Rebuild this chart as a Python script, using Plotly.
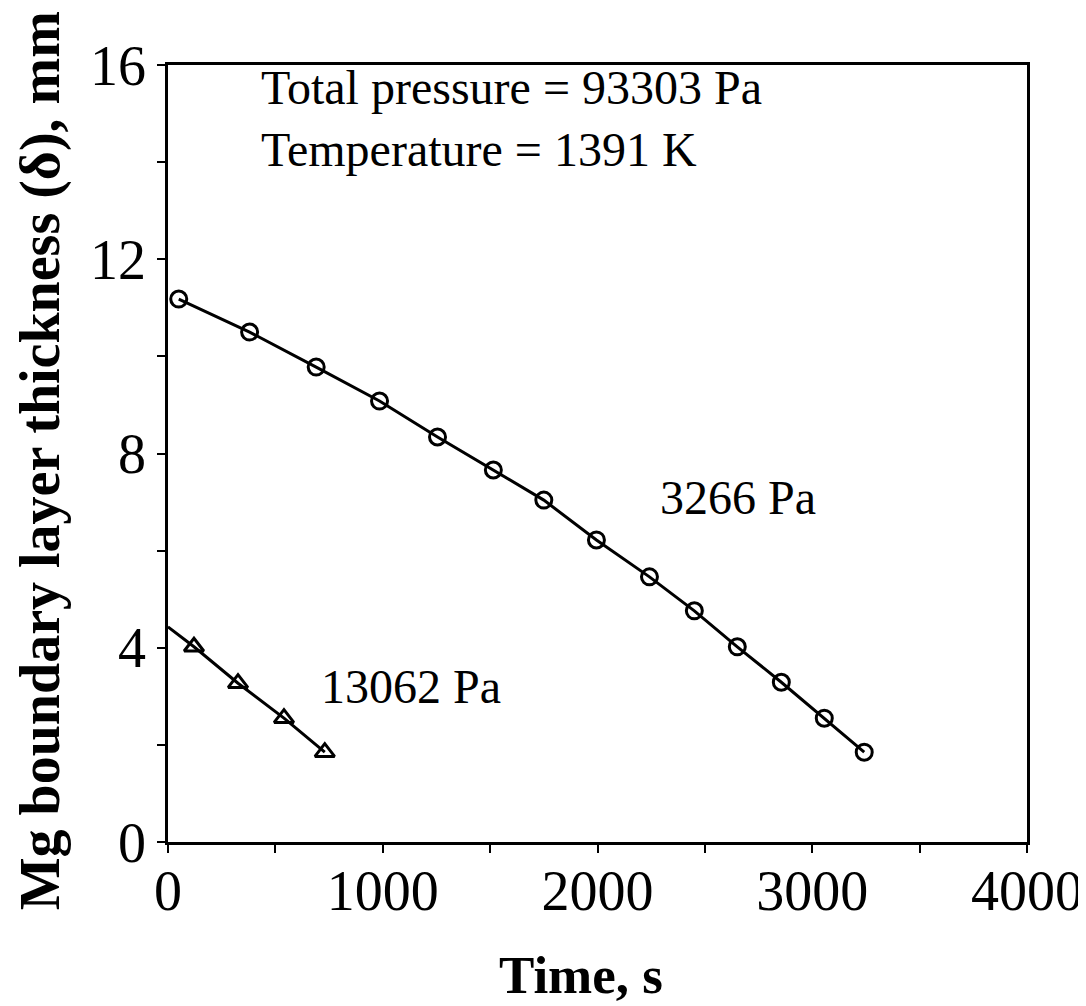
import plotly.graph_objects as go

# 3266 Pa series (circles)
time_3266 = [50, 380, 690, 985, 1255, 1515, 1750, 1995, 2242, 2451, 2651, 2856, 3056, 3242]
delta_3266 = [11.18, 10.50, 9.78, 9.08, 8.34, 7.66, 7.04, 6.22, 5.46, 4.76, 4.02, 3.29, 2.55, 1.85]

# 13062 Pa series (triangles); first point is the start of the fitted line only
time_13062 = [0, 121, 326, 540, 730]
delta_13062 = [4.43, 4.02, 3.27, 2.55, 1.85]

x_ticks = [0, 1000, 2000, 3000, 4000]
y_ticks = [0, 4, 8, 12, 16]

FONT = "Liberation Serif"

fig = go.Figure()
fig.add_trace(go.Scatter(
    x=time_3266, y=delta_3266, mode="lines+markers",
    line=dict(color="black", width=3),
    marker=dict(symbol="circle-open", size=16, color="black",
                line=dict(width=3, color="black")),
    showlegend=False))
fig.add_trace(go.Scatter(
    x=time_13062, y=delta_13062, mode="lines",
    line=dict(color="black", width=3), showlegend=False))
fig.add_trace(go.Scatter(
    x=time_13062[1:], y=delta_13062[1:], mode="markers",
    marker=dict(symbol="triangle-up-open", size=17, color="black",
                line=dict(width=3, color="black")),
    showlegend=False))

ann_font = dict(family=FONT, size=48, color="black")
fig.add_annotation(x=423, y=15.53, text="Total pressure = 93303 Pa", showarrow=False,
                   xanchor="left", yanchor="middle", font=ann_font)
fig.add_annotation(x=423, y=14.25, text="Temperature = 1391 K", showarrow=False,
                   xanchor="left", yanchor="middle", font=ann_font)
fig.add_annotation(x=2284, y=7.1, text="3266 Pa", showarrow=False,
                   xanchor="left", yanchor="middle", font=ann_font)
fig.add_annotation(x=702, y=3.21, text="13062 Pa", showarrow=False,
                   xanchor="left", yanchor="middle", font=ann_font)

# axis titles
fig.add_annotation(xref="paper", yref="paper", x=0.481, y=-0.171, text="<b>Time, s</b>",
                   showarrow=False, xanchor="center", yanchor="middle",
                   font=dict(family=FONT, size=53, color="black"))
fig.add_annotation(xref="paper", yref="paper", x=-0.149, y=0.49,
                   text="<b>Mg boundary layer thickness (δ), mm</b>", textangle=-90,
                   showarrow=False, xanchor="center", yanchor="middle",
                   font=dict(family=FONT, size=56, color="black"))

fig.update_xaxes(range=[0, 4000], tickvals=x_ticks, ticktext=[str(v) for v in x_ticks],
                 ticks="outside", ticklen=8, tickwidth=2, tickcolor="black",
                 minor=dict(dtick=500, ticks="outside", ticklen=8, tickwidth=2, tickcolor="black"),
                 showline=True, linecolor="black", linewidth=2.5, mirror=True,
                 showgrid=False, zeroline=False, automargin=False, ticklabelstandoff=-10,
                 tickfont=dict(family=FONT, size=56, color="black"))
fig.update_yaxes(range=[0, 16], tickvals=y_ticks, ticktext=[str(v) for v in y_ticks],
                 ticks="outside", ticklen=8, tickwidth=2, tickcolor="black",
                 minor=dict(dtick=2, ticks="outside", ticklen=8, tickwidth=2, tickcolor="black"),
                 showline=True, linecolor="black", linewidth=2.5, mirror=True,
                 showgrid=False, zeroline=False, automargin=False,
                 tickfont=dict(family=FONT, size=56, color="black"))

fig.update_layout(width=1078, height=998, plot_bgcolor="white", paper_bgcolor="white",
                  margin=dict(l=160, r=59, t=57, b=164))
fig.write_html("out.html")
